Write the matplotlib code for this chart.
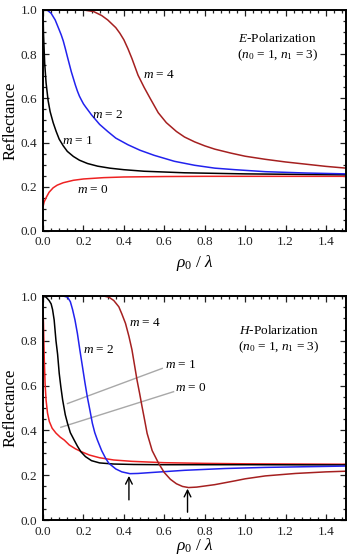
import matplotlib
matplotlib.use('Agg')
import matplotlib.pyplot as plt
from matplotlib.ticker import MultipleLocator

plt.rcParams['font.family'] = ['Liberation Serif', 'DejaVu Serif']
plt.rcParams['mathtext.fontset'] = 'custom'
plt.rcParams['mathtext.rm'] = 'Liberation Serif'
plt.rcParams['mathtext.it'] = 'Liberation Serif:italic'

# Reflectance, E-polarization
xe0 = [0, 0.005, 0.015, 0.03, 0.05, 0.07, 0.1, 0.15, 0.2, 0.3, 0.4, 0.6, 0.8, 1.0, 1.2, 1.5]
ye0 = [0.11, 0.13, 0.15, 0.175, 0.195, 0.207, 0.218, 0.229, 0.235, 0.241, 0.244, 0.246, 0.247, 0.247, 0.247, 0.247]

xe1 = [0, 0.002, 0.008, 0.015, 0.025, 0.035, 0.05, 0.065, 0.08, 0.1, 0.12, 0.15, 0.18, 0.22, 0.27, 0.33, 0.4, 0.5, 0.7, 1.0, 1.25, 1.5]
ye1 = [1.0, 0.9, 0.76, 0.67, 0.59, 0.54, 0.49, 0.45, 0.415, 0.385, 0.36, 0.337, 0.32, 0.305, 0.293, 0.284, 0.277, 0.27, 0.263, 0.258, 0.256, 0.254]

xe2 = [0, 0.02, 0.04, 0.06, 0.08, 0.09, 0.1, 0.11, 0.12, 0.13, 0.14, 0.15, 0.16, 0.17, 0.18, 0.19, 0.2, 0.21, 0.24, 0.28, 0.32,
       0.36, 0.42, 0.48, 0.55, 0.65, 0.75, 0.85, 0.95, 1.1, 1.3, 1.5]
ye2 = [1.0, 1.0, 0.985, 0.955, 0.91, 0.887, 0.86, 0.826, 0.79, 0.755, 0.72, 0.69, 0.66, 0.633, 0.61, 0.592, 0.575, 0.562, 0.525, 0.482, 0.45,
       0.42, 0.39, 0.365, 0.342, 0.315, 0.297, 0.284, 0.277, 0.268, 0.262, 0.258]

xe4 = [0, 0.1, 0.2, 0.25, 0.29, 0.32, 0.36, 0.38, 0.4, 0.42, 0.44, 0.47, 0.5, 0.53, 0.57, 0.61, 0.66, 0.7, 0.75, 0.8, 0.85, 0.93,
       1.0, 1.1, 1.2, 1.3, 1.4, 1.5]
ye4 = [1.0, 1.0, 1.0, 0.993, 0.975, 0.955, 0.92, 0.895, 0.865, 0.825, 0.78, 0.705, 0.65, 0.6, 0.535, 0.49, 0.45, 0.425, 0.403, 0.385, 0.37, 0.352,
       0.338, 0.324, 0.312, 0.302, 0.292, 0.284]

# Reflectance, H-polarization
xh0 = [0, 0.002, 0.006, 0.01, 0.015, 0.022, 0.031, 0.045, 0.064, 0.085, 0.105, 0.13, 0.16, 0.19, 0.23, 0.28, 0.35, 0.44, 0.6, 0.8, 1.0, 1.5]
yh0 = [0.93, 0.88, 0.72, 0.61, 0.535, 0.478, 0.44, 0.41, 0.388, 0.37, 0.357, 0.335, 0.318, 0.305, 0.29, 0.278, 0.268, 0.262, 0.256, 0.253, 0.251, 0.249]

xh1 = [0, 0.015, 0.03, 0.04, 0.047, 0.055, 0.064, 0.072, 0.08, 0.088, 0.097, 0.11, 0.121, 0.135, 0.154, 0.17, 0.187, 0.21, 0.24, 0.28, 0.35,
       0.45, 0.6, 0.8, 1.0, 1.5]
yh1 = [1.0, 0.995, 0.98, 0.965, 0.94, 0.893, 0.8, 0.74, 0.655, 0.595, 0.536, 0.47, 0.432, 0.39, 0.357, 0.33, 0.305, 0.283, 0.265, 0.255, 0.25,
       0.248, 0.247, 0.247, 0.247, 0.246]

xh2 = [0, 0.06, 0.1, 0.121, 0.135, 0.146, 0.158, 0.17, 0.182, 0.195, 0.207, 0.219, 0.232, 0.244, 0.256, 0.269, 0.29, 0.31, 0.326, 0.36,
       0.39, 0.43, 0.47, 0.55, 0.7, 0.9, 1.1, 1.3, 1.5]
yh2 = [1.0, 1.0, 1.0, 0.995, 0.975, 0.94, 0.893, 0.833, 0.76, 0.685, 0.615, 0.55, 0.49, 0.432, 0.39, 0.357, 0.31, 0.275, 0.253, 0.228,
       0.215, 0.207, 0.208, 0.213, 0.222, 0.23, 0.235, 0.238, 0.241]

xh4 = [0, 0.2, 0.3, 0.326, 0.35, 0.375, 0.39, 0.408, 0.425, 0.44, 0.453, 0.465, 0.478, 0.49, 0.503, 0.515, 0.54, 0.572, 0.6, 0.63, 0.66,
       0.69, 0.72, 0.76, 0.85, 0.95, 1.0, 1.1, 1.25, 1.4, 1.5]
yh4 = [1.0, 1.0, 1.0, 0.995, 0.98, 0.952, 0.92, 0.878, 0.82, 0.76, 0.69, 0.625, 0.565, 0.506, 0.445, 0.387, 0.31, 0.253, 0.212, 0.182, 0.162,
       0.15, 0.145, 0.147, 0.158, 0.175, 0.184, 0.197, 0.208, 0.215, 0.218]

RED = '#ee2222'
DARK = '#a52020'
BLUE = '#2222ee'


def estilo(ax, pad_x=3):
    ax.set_xlim(0, 1.5)
    ax.set_ylim(0, 1.0)
    ax.xaxis.set_major_locator(MultipleLocator(0.2))
    ax.xaxis.set_minor_locator(MultipleLocator(0.04))
    ax.yaxis.set_major_locator(MultipleLocator(0.2))
    ax.yaxis.set_minor_locator(MultipleLocator(0.05))
    ax.xaxis.set_major_formatter('{x:.1f}')
    ax.yaxis.set_major_formatter('{x:.1f}')
    ax.tick_params(which='both', direction='in', top=True, right=True,
                   labelsize=9.5, colors='#222222', width=0.9)
    ax.tick_params(which='major', length=4.5, pad=4)
    ax.tick_params(which='minor', length=2.3)
    for s in ax.spines.values():
        s.set_linewidth(1.4)
    ax.set_xlabel(r'$\rho_0$ / $\lambda$', fontsize=12.5, labelpad=pad_x)
    ax.set_ylabel('Reflectance', fontsize=12)
    ax.yaxis.set_label_coords(-0.08, 0.5)


fig = plt.figure(figsize=(3.5, 5.55), dpi=100)
ax1 = fig.add_axes([0.123, 0.584, 0.866, 0.398])
ax2 = fig.add_axes([0.123, 0.063, 0.866, 0.4036])

lw = 1.1
ax1.plot(xe0, ye0, color=RED, lw=lw)
ax1.plot(xe1, ye1, color='black', lw=lw)
ax1.plot(xe2, ye2, color=BLUE, lw=lw)
ax1.plot(xe4, ye4, color=DARK, lw=lw)

ax1.text(0.493, 0.706, r'$m$ = 4', fontsize=9.5, va='center')
ax1.text(0.244, 0.525, r'$m$ = 2', fontsize=9.5, va='center')
ax1.text(0.093, 0.409, r'$m$ = 1', fontsize=9.5, va='center')
ax1.text(0.17, 0.186, r'$m$ = 0', fontsize=9.5, va='center')
ax1.text(1.16, 0.83, '$E$-Polarization\n($n_0$ = 1, $n_1$ = 3)', fontsize=9.5,
         ha='center', va='center', linespacing=1.25)
estilo(ax1)

ax2.plot([0.121, 0.59], [0.52, 0.677], color='#a8a8a8', lw=1.0)
ax2.plot([0.088, 0.646], [0.414, 0.573], color='#a8a8a8', lw=1.0)
ax2.plot(xh0, yh0, color=RED, lw=lw)
ax2.plot(xh1, yh1, color='black', lw=lw)
ax2.plot(xh2, yh2, color=BLUE, lw=lw)
ax2.plot(xh4, yh4, color=DARK, lw=lw)

ax2.text(0.424, 0.878, r'$m$ = 4', fontsize=9.5, va='center')
ax2.text(0.2, 0.759, r'$m$ = 2', fontsize=9.5, va='center')
ax2.text(0.605, 0.692, r'$m$ = 1', fontsize=9.5, va='center')
ax2.text(0.651, 0.588, r'$m$ = 0', fontsize=9.5, va='center')
ax2.text(1.165, 0.805, '$H$-Polarization\n($n_0$ = 1, $n_1$ = 3)', fontsize=9.5,
         ha='center', va='center', linespacing=1.25)

# flechas en los minimos
ax2.annotate('', xy=(0.425, 0.197), xytext=(0.425, 0.09),
             arrowprops=dict(arrowstyle='->', color='black', lw=1.0,
                             mutation_scale=12, shrinkA=0, shrinkB=0))
ax2.annotate('', xy=(0.715, 0.14), xytext=(0.715, 0.035),
             arrowprops=dict(arrowstyle='->', color='black', lw=1.0,
                             mutation_scale=12, shrinkA=0, shrinkB=0))
estilo(ax2, pad_x=-1)

fig.savefig('out.png', dpi=100)
